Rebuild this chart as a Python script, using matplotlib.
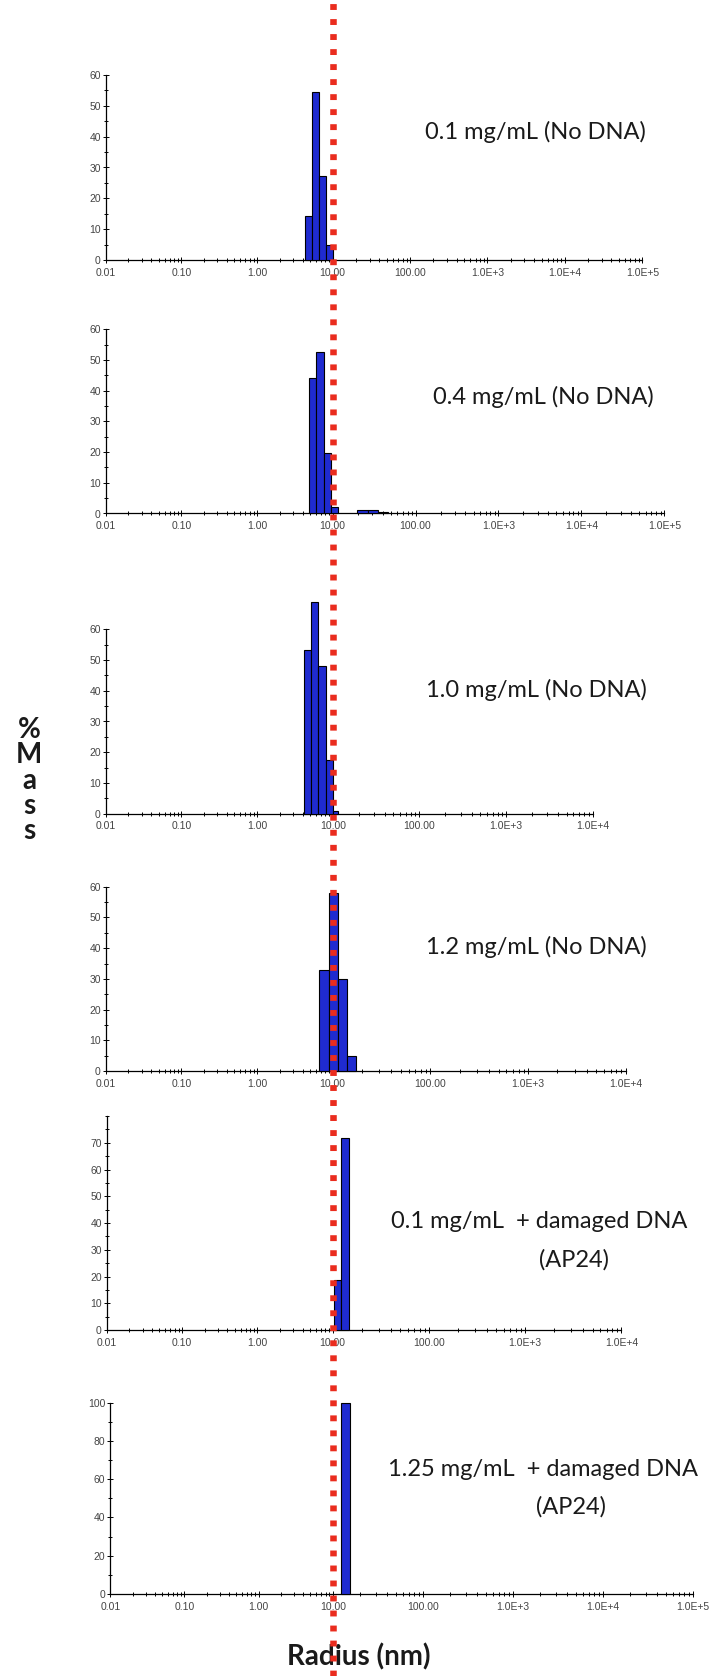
import numpy as np
import matplotlib
matplotlib.use('Agg')
import matplotlib.pyplot as plt
from matplotlib.lines import Line2D
from matplotlib.ticker import FixedLocator, FuncFormatter, NullFormatter

# bin edges (radius, nm) and % mass of each bin, one set per panel
p1_edges = [4.30, 5.28, 6.65, 8.15, 10.0]
p1_mass = [14.4, 54.4, 27.2, 4.9]

p2_edges = [4.91, 6.02, 7.67, 9.40, 11.7, 19.9, 26.6, 35.6, 47.0]
p2_mass = [44.2, 52.5, 19.6, 2.2, 0.0, 1.2, 1.0, 0.4]

p3_edges = [4.21, 5.12, 6.34, 8.08, 10.0, 11.4]
p3_mass = [53.3, 69.0, 47.9, 17.5, 0.8]

p4_edges = [6.63, 8.88, 11.4, 14.0, 17.4]
p4_mass = [33.0, 57.8, 29.9, 5.1]

p5_edges = [10.4, 12.3, 14.8]
p5_mass = [18.8, 71.7]

p6_edges = [12.3, 15.6]
p6_mass = [100.0]

panel_titles = [
    ["0.1 mg/mL (No DNA)"],
    ["0.4 mg/mL (No DNA)"],
    ["1.0 mg/mL (No DNA)"],
    ["1.2 mg/mL (No DNA)"],
    ["0.1 mg/mL  + damaged DNA", "(AP24)"],
    ["1.25 mg/mL  + damaged DNA", "(AP24)"],
]
x_max = [1e5, 1e5, 1e4, 1e4, 1e4, 1e5]
y_max = [60, 60, 60, 60, 80, 100]
y_label_max = [60, 60, 60, 60, 70, 100]
y_step = [10, 10, 10, 10, 10, 20]
ref_radius = 10.0

W, H = 714, 1676
BLUE = '#1f2bd0'
RED = '#ea2c1e'

# axes boxes in pixels: left, right, top, baseline
boxes = [
    (105.7, 642.3, 75.0, 260.0),
    (105.7, 664.3, 329.3, 513.5),
    (105.7, 592.7, 629.3, 813.7),
    (105.7, 625.7, 886.7, 1071.2),
    (106.7, 621.5, 1116.0, 1330.0),
    (110.3, 693.0, 1402.5, 1594.0),
]
# the original software spaces decades above 10 nm wider than below
stretch = [1.023, 1.096, 1.145, 1.291, 1.278, 1.215]

title_pos = [
    [(646, 131.7, 'right')],
    [(654, 397.0, 'right')],
    [(647, 690.0, 'right')],
    [(647, 946.7, 'right')],
    [(687, 1222.0, 'right'), (574, 1260.0, 'center')],
    [(698, 1470.0, 'right'), (571, 1507.0, 'center')],
]


def piecewise_log(k):
    def fwd(x):
        lx = np.log10(np.maximum(np.asarray(x, dtype=float), 1e-12))
        return np.where(lx <= 1, lx, 1 + k * (lx - 1))

    def inv(y):
        y = np.asarray(y, dtype=float)
        return np.where(y <= 1, 10.0 ** y, 10.0 ** (1 + (y - 1) / k))
    return fwd, inv


def fmt_radius(v, pos):
    if v < 1000:
        return '%.2f' % v
    return '1.0E+%d' % int(round(np.log10(v)))


plt.rcParams['font.family'] = ['Liberation Sans', 'DejaVu Sans']
fig = plt.figure(figsize=(W / 100, H / 100), dpi=100)
fig.patch.set_facecolor('white')

all_edges = [p1_edges, p2_edges, p3_edges, p4_edges, p5_edges, p6_edges]
all_mass = [p1_mass, p2_mass, p3_mass, p4_mass, p5_mass, p6_mass]

axes = []
for i in range(6):
    x0, x1, top, base = boxes[i]
    ax = fig.add_axes([x0 / W, 1 - base / H, (x1 - x0) / W, (base - top) / H])
    fwd, inv = piecewise_log(stretch[i])
    ax.set_xscale('function', functions=(fwd, inv))
    ax.set_xlim(0.01, x_max[i])
    ax.set_ylim(0, y_max[i])
    ax.patch.set_alpha(0)

    edges = np.array(all_edges[i])
    mass = np.array(all_mass[i])
    keep = mass > 0
    ax.bar(edges[:-1][keep], mass[keep], width=np.diff(edges)[keep], align='edge',
           color=BLUE, edgecolor='black', linewidth=0.8, clip_on=False, zorder=3)

    for s in ('top', 'right'):
        ax.spines[s].set_visible(False)
    for s in ('left', 'bottom'):
        ax.spines[s].set_linewidth(0.9)

    decades = 10.0 ** np.arange(-2, int(round(np.log10(x_max[i]))) + 1)
    ax.xaxis.set_major_locator(FixedLocator(decades))
    ax.xaxis.set_minor_locator(FixedLocator([m * d for d in decades[:-1] for m in range(2, 10)]))
    ax.xaxis.set_major_formatter(FuncFormatter(fmt_radius))
    ax.xaxis.set_minor_formatter(NullFormatter())
    ax.yaxis.set_major_locator(FixedLocator(np.arange(0, y_label_max[i] + 1, y_step[i])))
    ax.yaxis.set_minor_locator(FixedLocator(np.arange(0, y_max[i] + 0.1, y_step[i] / 2)))

    ax.tick_params(which='both', direction='inout', width=0.7, color='black',
                   labelcolor='#444444', labelsize=7.5)
    ax.tick_params(which='major', length=5)
    ax.tick_params(which='minor', length=3.5)
    ax.tick_params(axis='x', pad=3)
    ax.tick_params(axis='y', pad=1)
    axes.append(ax)

    for txt, (tx, ty, ha) in zip(panel_titles[i], title_pos[i]):
        fig.text(tx / W, 1 - ty / H, txt, ha=ha, va='center', fontsize=17,
                 family=['Lato', 'DejaVu Sans'], color='#1a1a1a')

# dotted reference line at 10 nm, running through every panel
xf = fig.transFigure.inverted().transform(axes[0].transData.transform((ref_radius, 0)))[0]
fig.add_artist(Line2D([xf, xf], [0, 1], transform=fig.transFigure, color=RED, lw=4.7,
                      linestyle=(0, (0.9, 1.4)), dash_capstyle='butt', zorder=10))

# vertical "% Mass" label, one character per line
for j, ch in enumerate('%Mass'):
    fig.text(29 / W, 1 - (738 + 25.3 * j) / H, ch, ha='center', va='baseline',
             fontsize=20, fontweight='bold', family=['Lato', 'DejaVu Sans'], color='#1a1a1a')

fig.text(359 / W, 1 - 1657 / H, 'Radius (nm)', ha='center', va='center', fontsize=20,
         fontweight='bold', family=['Lato', 'DejaVu Sans'], color='#1a1a1a')

fig.savefig('out.png', dpi=100)
